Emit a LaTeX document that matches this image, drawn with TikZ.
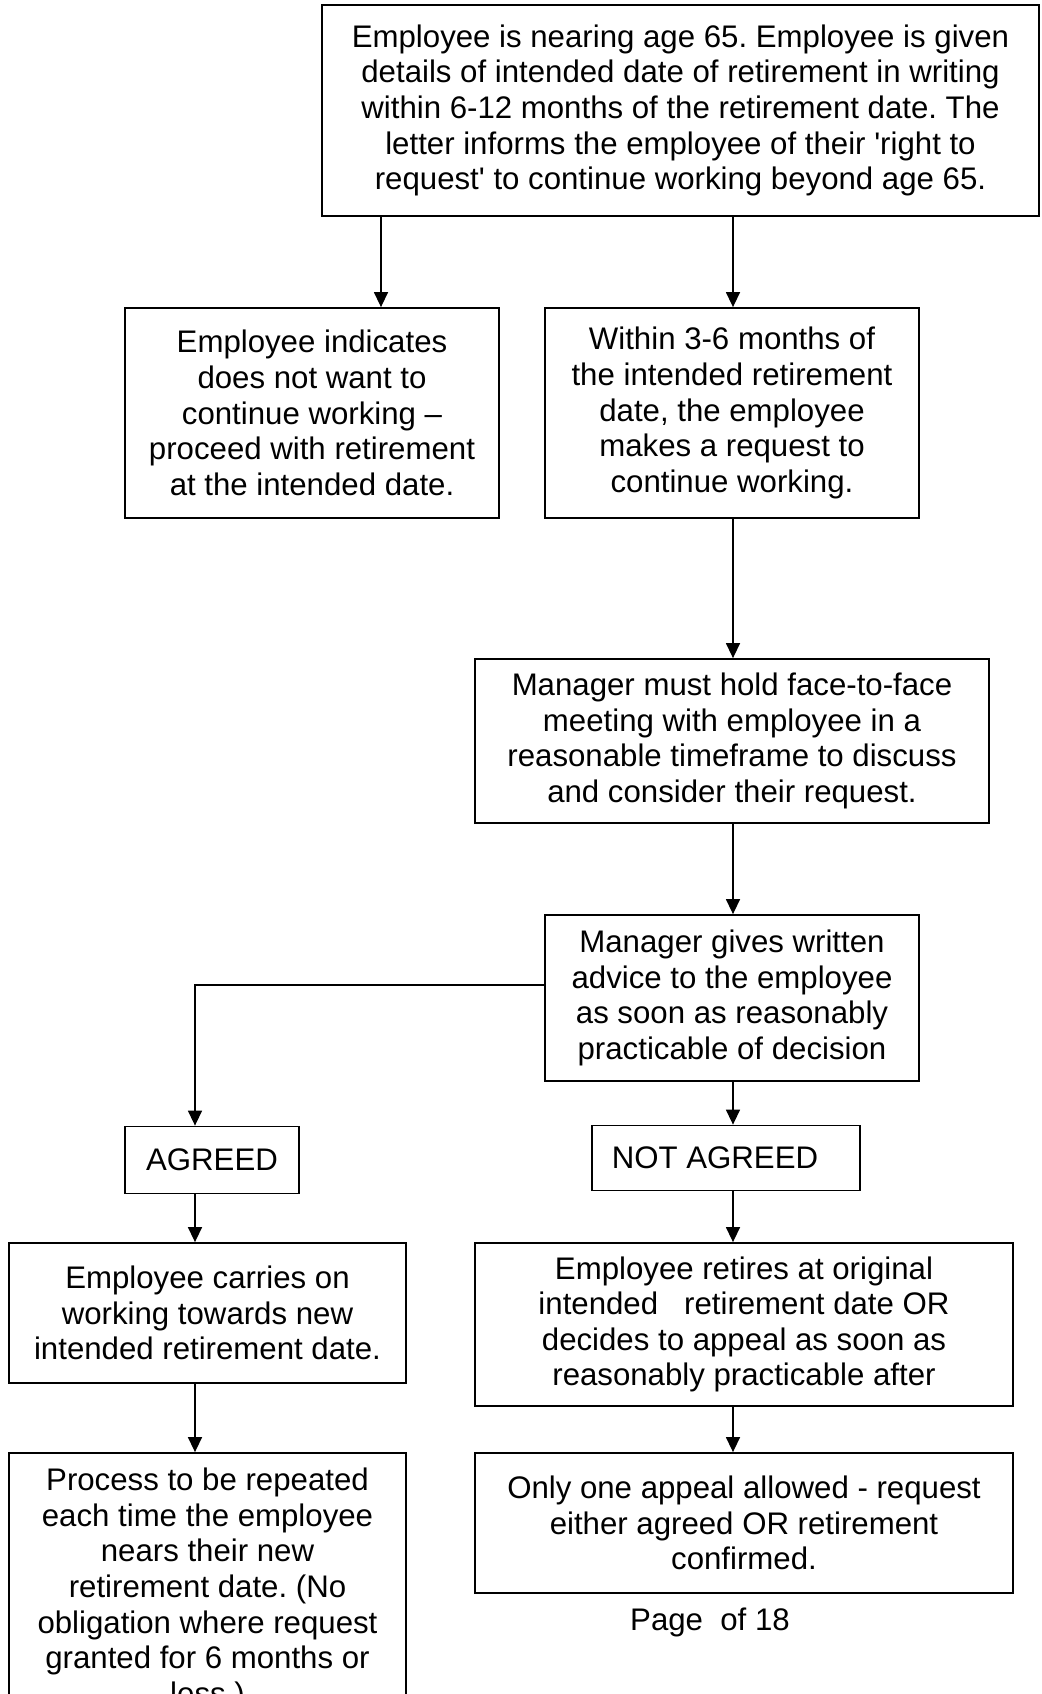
\documentclass[tikz,border=0pt]{standalone}
\usepackage{fontspec}
\setmainfont{Liberation Sans}
\usetikzlibrary{arrows.meta,calc}
\frenchspacing

\begin{document}
\begin{tikzpicture}[x=0.5pt,y=-0.5pt]
  \tikzstyle{stage}=[rectangle, draw, line width=0.9pt, inner sep=0pt, align=center, font=\fontsize{15.6}{17.8}\selectfont]
  \tikzstyle{flow}=[-{Triangle[length=7.5pt,width=7pt]}, line width=0.7pt]

  \useasboundingbox (0,0) rectangle (1041,1694);

  % Arrow columns
  \coordinate (colA) at (381,0);
  \coordinate (colB) at (733,0);
  \coordinate (colC) at (195,0);

  % Letter to employee
  \node[stage, minimum width=358.5pt, minimum height=105.5pt] (notice) at (680.5,110.5) {Employee is nearing age 65. Employee is given\\details of intended date of retirement in writing\\within 6-12 months of the retirement date. The\\letter informs the employee of their \textquotesingle right to\\request\textquotesingle{} to continue working beyond age 65.};

  % First choice
  \node[stage, minimum width=187pt, minimum height=105pt] (retire) at (312,413) {Employee indicates\\does not want to\\continue working --\\proceed with retirement\\at the intended date.};
  \node[stage, minimum width=187pt, minimum height=105pt] (request) at (732,413) {Within 3-6 months of\\the intended retirement\\date, the employee\\makes a request to\\continue working.};

  % Meeting and decision
  \node[stage, minimum width=257pt, minimum height=82pt] (meeting) at (732,741) {Manager must hold face-to-face\\meeting with employee in a\\reasonable timeframe to discuss\\and consider their request.};
  \node[stage, minimum width=187pt, minimum height=83pt] (advice) at (732,998) {Manager gives written\\advice to the employee\\as soon as reasonably\\practicable of decision};

  % Outcome
  \node[stage, minimum width=87pt, minimum height=33.5pt] (agreed) at (212,1160) {AGREED};
  \node[stage, minimum width=134pt, minimum height=32.5pt] (refused) at (726,1158) {NOT AGREED\hspace*{11pt}};

  % Agreed branch
  \node[stage, minimum width=198.5pt, minimum height=70pt] (carry) at (207.5,1313) {Employee carries on\\working towards new\\intended retirement date.};
  \node[stage, minimum width=198.5pt, minimum height=136.5pt] (repeat) at (207.5,1589.5) {Process to be repeated\\each time the employee\\nears their new\\retirement date. (No\\obligation where request\\granted for 6 months or\\less.)};

  % Not agreed branch
  \node[stage, minimum width=269pt, minimum height=81.5pt] (retires) at (744,1324.5) {Employee retires at original\\intended\ \ \ retirement date OR\\decides to appeal as soon as\\reasonably practicable after};
  \node[stage, minimum width=269pt, minimum height=70pt] (appeal) at (744,1523) {Only one appeal allowed - request\\either agreed OR retirement\\confirmed.};

  \node[font=\fontsize{15.6}{17.8}\selectfont] (page) at (710,1622) {Page\ \ of 18};

  % Connectors
  \draw[flow] (notice.south -| colA) -- (retire.north -| colA);
  \draw[flow] (notice.south -| colB) -- (request.north -| colB);
  \draw[flow] (request.south -| colB) -- (meeting.north -| colB);
  \draw[flow] (meeting.south -| colB) -- (advice.north -| colB);
  \draw[flow] ($(advice.west)+(0,-13)$) -| (agreed.north -| colC);
  \draw[flow] (advice.south -| colB) -- (refused.north -| colB);
  \draw[flow] (agreed.south -| colC) -- (carry.north -| colC);
  \draw[flow] (carry.south -| colC) -- (repeat.north -| colC);
  \draw[flow] (refused.south -| colB) -- (retires.north -| colB);
  \draw[flow] (retires.south -| colB) -- (appeal.north -| colB);
\end{tikzpicture}
\end{document}
